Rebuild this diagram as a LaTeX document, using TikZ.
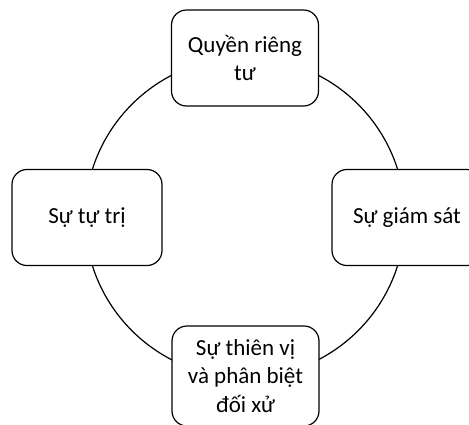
\documentclass[tikz,border=0pt]{standalone}
\usepackage{fontspec}
\setmainfont{Carlito}
\begin{document}
\begin{tikzpicture}[x=1pt,y=-1pt,
  box/.style={draw=black,line width=1.2pt,fill=white,rounded corners=15pt,
    minimum width=147pt,minimum height=96pt,align=center,inner sep=2pt,
    font=\fontsize{23}{28.5}\selectfont}]
\useasboundingbox (0,0) rectangle (469,424);
\clip (0,0) rectangle (469,424);
\coordinate (c) at (245,217.5);
\draw[line width=1.2pt] (c) circle[radius=160pt];
\node[box] (top) at (245,58) {Quyền riêng\\tư};
\node[box,minimum width=150pt] (left) at (87,217.5) {Sự tự trị};
\node[box,minimum width=150pt] (right) at (407,217.5) {Sự giám sát};
\node[box,minimum height=100pt] (bottom) at (245.5,376) {Sự thiên vị\\và phân biệt\\đối xử};
\end{tikzpicture}
\end{document}
